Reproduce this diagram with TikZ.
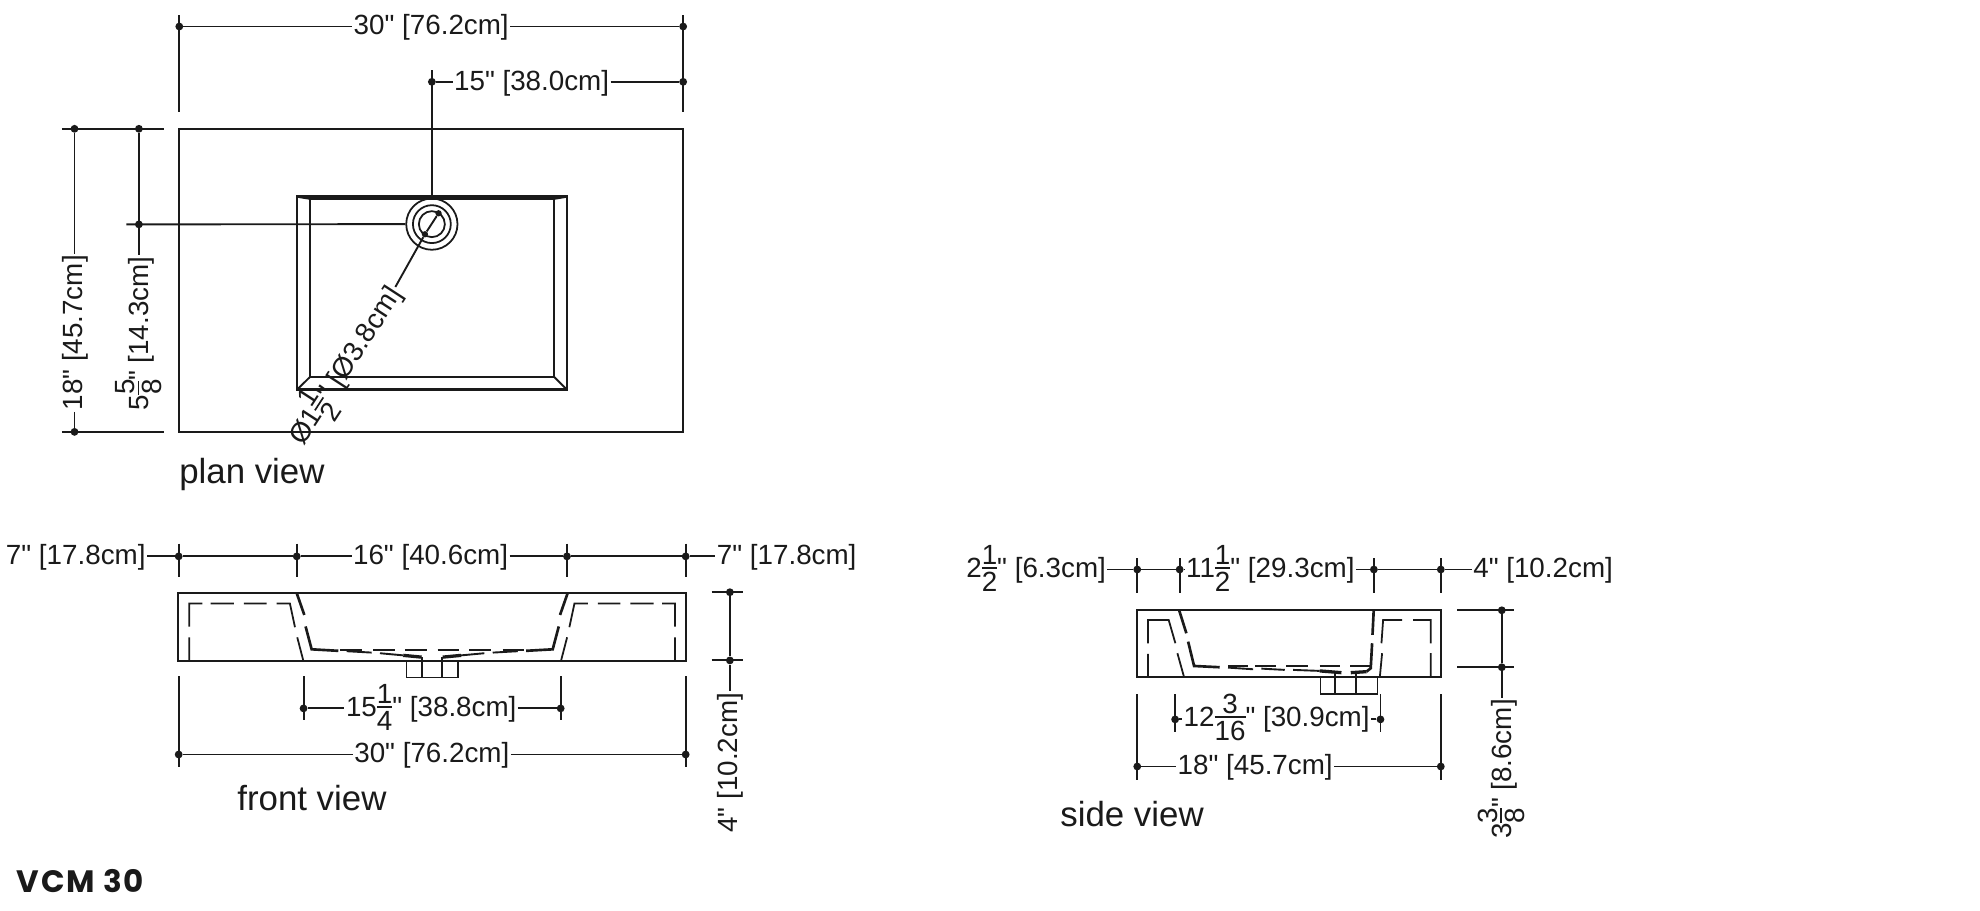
\documentclass[tikz,border=0pt]{standalone}
\usepackage{fontspec}
\setmainfont{Liberation Sans}
\newfontfamily\dimfont{Liberation Sans}
\newfontfamily\titlefont{Poppins}[LetterSpace=6]
\def\fr#1#2{\setbox0\hbox{#1}\setbox2\hbox{#2}\dimen0=\ifdim\wd0>\wd2 \wd0\else\wd2\fi
  \raisebox{.11em}{$\vcenter{\hbox to\dimen0{\hfil\box0\hfil}\kern.1em\hrule height .06em\kern.11em\hbox to\dimen0{\hfil\box2\hfil}}$}}
\definecolor{ink}{HTML}{1A1A1A}
\tikzset{
  dimline/.style={draw=ink,line width=1.5pt},
  dimdot/.style={circle,fill=ink,inner sep=0pt,minimum size=6.2pt},
  dimtext/.style={text=ink,inner sep=1pt,font=\dimfont\fontsize{22}{24}\selectfont},
  viewname/.style={text=ink,inner sep=0pt,anchor=base,font=\dimfont\fontsize{27.6}{30}\selectfont},
  outline/.style={draw=ink,line width=1.5pt},
  thinpart/.style={draw=ink,line width=1.4pt},
  basinline/.style={draw=ink,line width=2.1pt,line join=miter},
  wall/.style={draw=ink,line width=1.4pt},
  bowl/.style={draw=ink,line width=2.1pt},
  bowlbase/.style={draw=ink,line width=1.5pt},
  sump/.style={draw=ink,line width=2.6pt},
  ring/.style={circle,draw=ink,line width=1.4pt,inner sep=0pt}
}
\begin{document}
\begin{tikzpicture}[x=1pt,y=-1pt]
\useasboundingbox (0,0) rectangle (1568,721.4);
% ---------- PLAN VIEW ----------
\draw[outline] (142,102) rectangle (541,342);
\draw[basinline] (235.2,155.8) rectangle (449,308.6);
\draw[outline] (245.6,157.5) rectangle (438.7,298.4);
\draw[outline] (235.2,155.8) -- (245.6,157.5) (449,155.8) -- (438.7,157.5) (235.2,308.6) -- (245.6,298.4) (449,308.6) -- (438.7,298.4);
\node[ring,minimum size=40.6pt] (drainA) at (342,177.5) {};
\node[ring,minimum size=30pt] (drainB) at (342,177.5) {};
\node[ring,minimum size=20.6pt] (drainC) at (342,177.5) {};
% top dims
\node[dimdot] (pa) at (142,21) {};
\node[dimdot] (pb) at (541,21) {};
\node[dimtext] (pt1) at (341.5,22) {30" [76.2cm]};
\draw[dimline] (pa) -- (pt1.west |- pa) (pt1.east |- pb) -- (pb);
\coordinate (pe1) at (142,12); \coordinate (pe2) at (142,89);
\coordinate (pe3) at (541,12); \coordinate (pe4) at (541,89);
\draw[dimline] (pe1) -- (pe2) (pe3) -- (pe4);
\node[dimdot] (pc) at (342,64.8) {};
\node[dimdot] (pd) at (541,64.8) {};
\node[dimtext] (pt2) at (421,66) {15" [38.0cm]};
\draw[dimline] (pc) -- (pt2.west |- pc) (pt2.east |- pd) -- (pd);
\coordinate (pe5) at (342,55.5);
\draw[dimline] (pe5) -- (drainA.north);
% left dims
\coordinate (pl1) at (49,102); \coordinate (pl2) at (130,102);
\coordinate (pl3) at (49,342); \coordinate (pl4) at (130,342);
\draw[dimline] (pl1) -- (pl2) (pl3) -- (pl4);
\node[dimdot] (pf) at (59,102) {};
\node[dimdot] (pg) at (59,342) {};
\node[dimdot] (ph) at (110,102) {};
\node[dimdot] (pi) at (110,177.7) {};
\node[dimtext,rotate=90] (pt3) at (60,263.5) {18" [45.7cm]};
\node[dimtext,rotate=90] (pt4) at (110,264) {5\fr{5}{8}" [14.3cm]};
\draw[dimline] (pf) -- (pf |- pt3.east) (pg |- pt3.west) -- (pg);
\draw[dimline] (ph) -- (ph |- pt4.east);
\coordinate (pl5) at (100,177.7);
\draw[dimline] (pl5) -- (drainA.west);
% diameter leader
\node[dimdot,minimum size=5pt] (pj) at (347.3,168.9) {};
\node[dimdot,minimum size=5pt] (pk) at (336.5,185.5) {};
\node[dimtext,rotate=57] (pt5) at (273,289) {Ø1\fr{1}{2}" [Ø3.8cm]};
\draw[dimline] (pj) -- (pk) -- (pt5.east);
\node[viewname] (pn) at (199.5,383) {plan view};
% ---------- FRONT VIEW ----------
\draw[outline] (141.3,469.5) rectangle (543,523.2);
% outer walls (dashed)
\draw[wall] (149.9,523.2) -- (149.9,504.7) (149.9,496.3) -- (149.9,478) -- (160.2,478)
  (166.8,478) -- (185.3,478) (193.2,478) -- (211.1,478) (219,478) -- (229.6,478) -- (233.6,496.7)
  (235.4,504.7) -- (240.2,523.2);
\draw[wall] (534.6,523.2) -- (534.6,504.7) (534.6,496.3) -- (534.6,478) -- (524.3,478)
  (517.7,478) -- (499.2,478) (491.3,478) -- (473.4,478) (465.5,478) -- (454.9,478) -- (450.9,496.7)
  (449.1,504.7) -- (444.3,523.2);
% bowl
\draw[bowl] (234.9,469.5) -- (241,487) (242,496.1) -- (246.8,514.2) -- (267.9,515.4);
\draw[bowl] (449.6,469.5) -- (443.5,487) (442.5,496.1) -- (437.7,514.2) -- (416.6,515.4);
\draw[bowlbase] (269.2,514.6) -- (286.4,514.6) (295.6,514.6) -- (312.8,514.6) (320.7,514.6) -- (337.9,514.6)
  (346.6,514.6) -- (363.8,514.6) (371.7,514.6) -- (388.9,514.6) (398.1,514.6) -- (415.3,514.6);
\draw[bowlbase] (274.5,515.7) -- (294.3,516.8) (300.9,517.3) -- (319.4,519)
  (410,515.7) -- (390.2,516.8) (383.6,517.3) -- (365.1,519);
\draw[sump] (319.4,519) -- (333.9,520.4) (365.1,519) -- (350.6,520.4);
\draw[thinpart] (322,523.2) -- (322,536.6) -- (362.4,536.6) -- (362.4,523.2);
\draw[thinpart] (333.9,520.4) -- (333.9,536.6) (350.3,520.4) -- (350.3,536.6);
% dims
\node[dimdot] (fa) at (141.5,440.6) {};
\node[dimdot] (fb) at (235,440.6) {};
\node[dimdot] (fc) at (449,440.6) {};
\node[dimdot] (fd) at (543,440.6) {};
\node[dimtext] (ft1) at (60,441) {7" [17.8cm]};
\node[dimtext] (ft2) at (341,441) {16" [40.6cm]};
\node[dimtext] (ft3) at (623,441) {7" [17.8cm]};
\draw[dimline] (ft1.east |- fa) -- (fa) -- (fb) -- (ft2.west |- fb) (ft2.east |- fc) -- (fc) -- (fd) -- (ft3.west |- fd);
\foreach \n/\x in {1/141.5,2/235,3/449,4/543}{
  \coordinate (fu\n) at (\x,430.6); \coordinate (fv\n) at (\x,456.8);
  \draw[dimline] (fu\n) -- (fv\n);
}
\node[dimdot] (fe) at (240.4,561) {};
\node[dimdot] (ff) at (444,561) {};
\node[dimtext] (ft4) at (341.5,560) {15\fr{1}{4}" [38.8cm]};
\draw[dimline] (fe) -- (ft4.west |- fe) (ft4.east |- ff) -- (ff);
\coordinate (fw1) at (240.4,535.6); \coordinate (fx1) at (240.4,570.5);
\coordinate (fw2) at (444,535.6); \coordinate (fx2) at (444,570.5);
\draw[dimline] (fw1) -- (fx1) (fw2) -- (fx2);
\node[dimdot] (fg) at (141.5,597.5) {};
\node[dimdot] (fh) at (543,597.5) {};
\node[dimtext] (ft5) at (342,598.5) {30" [76.2cm]};
\draw[dimline] (fg) -- (ft5.west |- fg) (ft5.east |- fh) -- (fh);
\coordinate (fw3) at (141.5,535.6); \coordinate (fx3) at (141.5,607.2);
\coordinate (fw4) at (543,535.6); \coordinate (fx4) at (543,607.2);
\draw[dimline] (fw3) -- (fx3) (fw4) -- (fx4);
\node[dimdot] (fi) at (578,469) {};
\node[dimdot] (fj) at (578,523) {};
\coordinate (fy1) at (563.6,469); \coordinate (fz1) at (588,469);
\coordinate (fy2) at (563.6,523); \coordinate (fz2) at (588,523);
\draw[dimline] (fy1) -- (fz1) (fy2) -- (fz2);
\node[dimtext,rotate=90] (ft6) at (578,604) {4" [10.2cm]};
\draw[dimline] (fi) -- (fj) -- (fj |- ft6.east);
\node[viewname] (fn) at (247,642) {front view};
% ---------- SIDE VIEW ----------
\draw[outline] (900.5,483) rectangle (1141.3,536.3);
\draw[wall] (909.2,536.3) -- (909.2,517.9) (909.2,509.4) -- (909.2,491) -- (925.5,491) -- (930.8,509.4)
  (932.4,517.3) -- (937.7,536.3);
\draw[wall] (1133,536.3) -- (1133,517.3) (1133,509.4) -- (1133,491) -- (1119,491)
  (1110.3,491) -- (1095.3,491) -- (1094,509.4) (1094.5,517.3) -- (1092.7,536.3);
\draw[bowl] (933.7,483) -- (939.5,501.5) (940.9,508.1) -- (945.6,527.4) -- (965.9,528.4);
\draw[bowl] (1087.9,482.5) -- (1086.9,502.8) (1086.6,509.4) -- (1085.5,529.2) -- (1082.1,531.9);
\draw[bowlbase] (972.5,527.4) -- (988.4,527.4) (993.7,527.4) -- (1010.8,527.4) (1018.7,527.4) -- (1035.9,527.4)
  (1045.1,527.4) -- (1061,527.4) (1069.4,527.4) -- (1084.7,527.4);
\draw[bowlbase] (972.5,528.7) -- (992.3,530) (998.9,529.5) -- (1017.4,530.5) (1024,530.5) -- (1045.1,531.3);
\draw[sump] (1045.1,531.3) -- (1062.3,532.7) (1069.7,532.7) -- (1082.1,531.9);
\draw[thinpart] (1045.7,536.3) -- (1045.7,549.8) -- (1090.8,549.8) -- (1090.8,536.3);
\draw[thinpart] (1057,532.7) -- (1057,549.8) (1073.6,532.7) -- (1073.6,549.8);
\node[dimdot] (sa) at (900.6,451) {};
\node[dimdot] (sb) at (934.2,451) {};
\node[dimdot] (sc) at (1088,451) {};
\node[dimdot] (sd) at (1141,451) {};
\node[dimtext] (st1) at (820.5,450) {2\fr{1}{2}" [6.3cm]};
\node[dimtext] (st2) at (1006,450) {11\fr{1}{2}" [29.3cm]};
\node[dimtext] (st3) at (1222,452) {4" [10.2cm]};
\draw[dimline] (st1.east |- sa) -- (sa) -- (sb) -- (st2.west |- sb) (st2.east |- sc) -- (sc) -- (sd) -- (st3.west |- sd);
\foreach \n/\x in {1/900.6,2/934.2,3/1088,4/1141}{
  \coordinate (su\n) at (\x,442); \coordinate (sv\n) at (\x,469.5);
  \draw[dimline] (su\n) -- (sv\n);
}
\node[dimdot] (se) at (930.6,569.7) {};
\node[dimdot] (sf) at (1093.2,569.7) {};
\node[dimtext] (st4) at (1011,568) {12\fr{3}{16}" [30.9cm]};
\draw[dimline] (se) -- (st4.west |- se) (st4.east |- sf) -- (sf);
\coordinate (sw1) at (930.6,549.6); \coordinate (sx1) at (930.6,580);
\coordinate (sw2) at (1093.2,549.6); \coordinate (sx2) at (1093.2,580);
\draw[dimline] (sw1) -- (sx1) (sw2) -- (sx2);
\node[dimdot] (sg) at (900.6,607) {};
\node[dimdot] (sh) at (1141,607) {};
\node[dimtext] (st5) at (994,608) {18" [45.7cm]};
\draw[dimline] (sg) -- (st5.west |- sg) (st5.east |- sh) -- (sh);
\coordinate (sw3) at (900.6,549.6); \coordinate (sx3) at (900.6,617.7);
\coordinate (sw4) at (1141,549.6); \coordinate (sx4) at (1141,617.7);
\draw[dimline] (sw3) -- (sx3) (sw4) -- (sx4);
\node[dimdot] (si) at (1189.3,483.3) {};
\node[dimdot] (sj) at (1189.3,528.4) {};
\coordinate (sy1) at (1154,483.3); \coordinate (sz1) at (1199,483.3);
\coordinate (sy2) at (1154,528.4); \coordinate (sz2) at (1199,528.4);
\draw[dimline] (sy1) -- (sz1) (sy2) -- (sz2);
\node[dimtext,rotate=90] (st6) at (1189,609) {3\fr{3}{8}" [8.6cm]};
\draw[dimline] (si) -- (sj) -- (sj |- st6.east);
\node[viewname] (sn) at (896.5,654.5) {side view};
% ---------- TITLE ----------
\node[text=ink,inner sep=0pt,anchor=base west,font=\titlefont\bfseries\fontsize{24.5}{26}\selectfont] (title) at (13,707) {VCM 30};
\end{tikzpicture}
\end{document}
